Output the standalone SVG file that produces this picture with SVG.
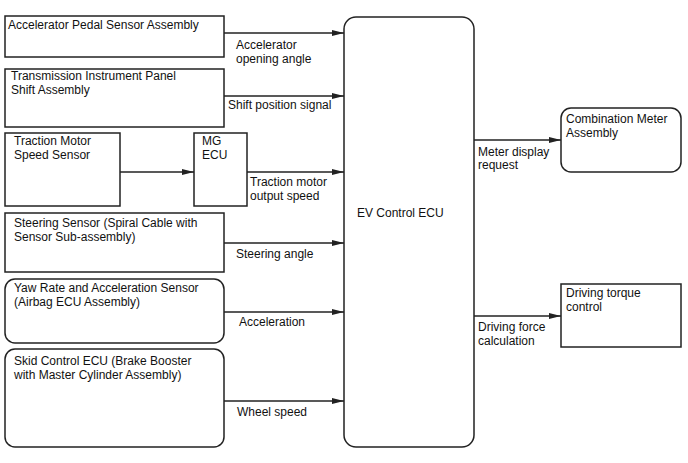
<svg xmlns="http://www.w3.org/2000/svg" width="688" height="463" viewBox="0 0 688 463">
<defs>
<marker id="ah" markerWidth="12" markerHeight="6" refX="12" refY="3" orient="auto" markerUnits="userSpaceOnUse">
<path d="M0,0 L12,3 L0,6 Z" fill="#222"/>
</marker>
</defs>
<style>
.b{fill:#fff;stroke:#222;stroke-width:1.5}
.c{stroke:#222;stroke-width:1.3;fill:none;marker-end:url(#ah)}
text{font-family:"Liberation Sans",Arial,sans-serif;font-size:12px;fill:#111}
</style>
<rect width="688" height="463" fill="#fff"/>
<g id="n1"><rect class="b" x="5" y="16" width="219" height="41"/><text x="8" y="29">Accelerator Pedal Sensor Assembly</text></g>
<g id="n2"><rect class="b" x="5" y="69" width="219" height="58"/><text x="11" y="80">Transmission Instrument Panel</text><text x="11" y="94">Shift Assembly</text></g>
<g id="n3"><rect class="b" x="5" y="133" width="115" height="73"/><text x="14" y="145">Traction Motor</text><text x="14" y="159">Speed Sensor</text></g>
<g id="n4"><rect class="b" x="194" y="133" width="53" height="73"/><text x="202" y="145">MG</text><text x="202" y="159">ECU</text></g>
<g id="n5"><rect class="b" x="5" y="213" width="219" height="59"/><text x="14" y="227">Steering Sensor (Spiral Cable with</text><text x="14" y="241">Sensor Sub-assembly)</text></g>
<g id="n6"><rect class="b" x="5" y="279" width="219" height="64" rx="10"/><text x="14" y="292">Yaw Rate and Acceleration Sensor</text><text x="14" y="306">(Airbag ECU Assembly)</text></g>
<g id="n7"><rect class="b" x="5" y="349" width="219" height="98" rx="10"/><text x="14" y="365">Skid Control ECU (Brake Booster</text><text x="14" y="379">with Master Cylinder Assembly)</text></g>
<g id="n8"><rect class="b" x="344" y="17" width="130" height="430" rx="12"/><text x="357" y="217">EV Control ECU</text></g>
<g id="n9"><rect class="b" x="561" y="108" width="120" height="64" rx="10"/><text x="566" y="123">Combination Meter</text><text x="566" y="137">Assembly</text></g>
<g id="n10"><rect class="b" x="561" y="284" width="120" height="63"/><text x="566" y="297">Driving torque</text><text x="566" y="311">control</text></g>
<g id="connectors">
<line class="c" x1="224" y1="33" x2="344" y2="33"/>
<line class="c" x1="224" y1="96" x2="344" y2="96"/>
<line class="c" x1="120" y1="172" x2="194" y2="172"/>
<line class="c" x1="247" y1="172" x2="344" y2="172"/>
<line class="c" x1="224" y1="243" x2="344" y2="243"/>
<line class="c" x1="224" y1="312" x2="344" y2="312"/>
<line class="c" x1="224" y1="401" x2="344" y2="401"/>
<line class="c" x1="474" y1="140" x2="561" y2="140"/>
<line class="c" x1="474" y1="316" x2="561" y2="316"/>
<text x="236" y="49">Accelerator</text><text x="236" y="63">opening angle</text>
<text x="228" y="109">Shift position signal</text>
<text x="250" y="186">Traction motor</text><text x="250" y="200">output speed</text>
<text x="236" y="258">Steering angle</text>
<text x="239" y="326">Acceleration</text>
<text x="237" y="416">Wheel speed</text>
<text x="478" y="156">Meter display</text><text x="478" y="169">request</text>
<text x="478" y="331">Driving force</text><text x="478" y="345">calculation</text>
</g>
</svg>
